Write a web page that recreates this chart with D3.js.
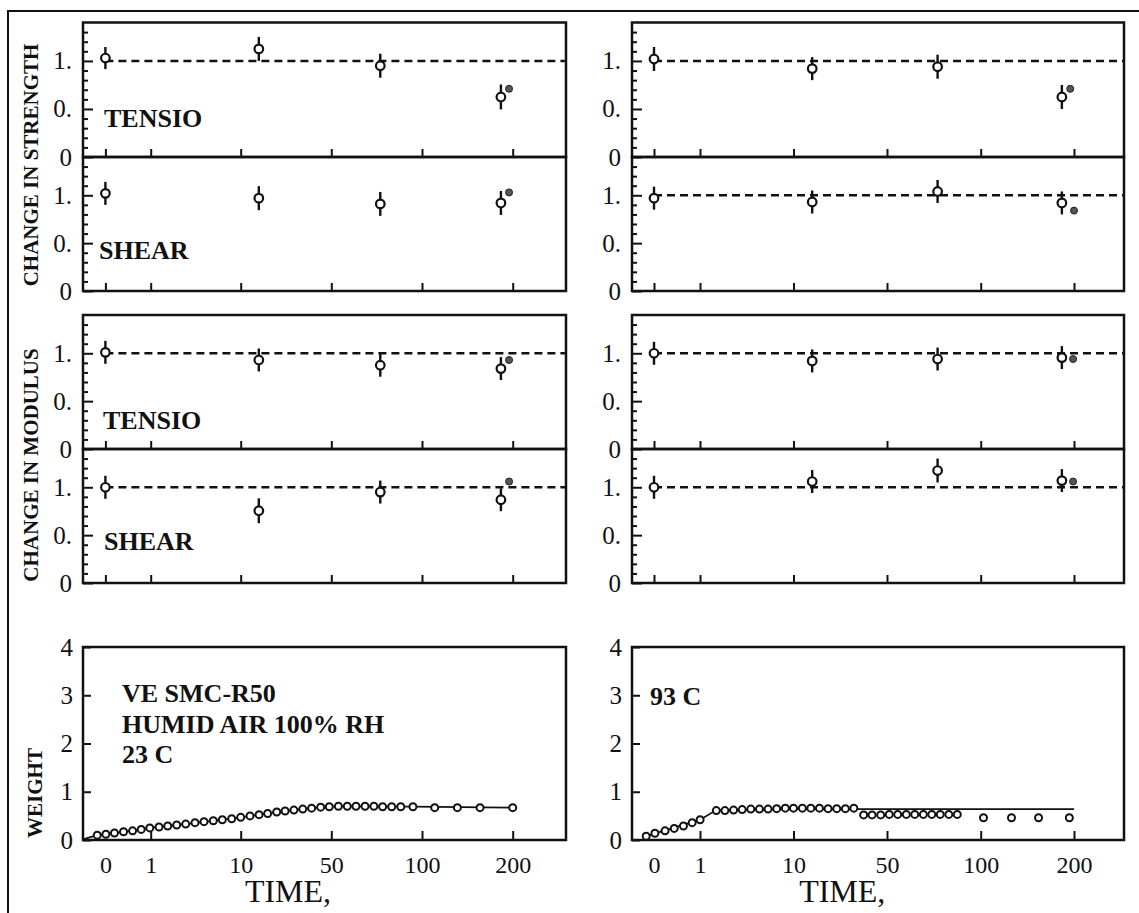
<!DOCTYPE html>
<html>
<head>
<meta charset="utf-8">
<script src="https://cdn.jsdelivr.net/npm/d3@7"></script>
<style>
  body { margin: 0; background: #fff; }
  text { font-family: "Liberation Serif", "DejaVu Serif", "Times New Roman", serif; fill: #111; }
</style>
</head>
<body>
<script>
// time axis is printed on a stretched scale, so the ticks are spaced by hand
var timeTicks = [0, 1, 10, 50, 100, 200];
var timeLabels = ["0", "1", "10", "50", "100", "200"];
var testTimes = [0, 18, 77, 187];

var ratioTicks = [0, 0.5, 1.0];
var ratioLabels = ["0", "0.", "1."];
var ratioMinor = [0.1, 0.2, 0.3, 0.4, 0.6, 0.7, 0.8, 0.9, 1.1, 1.2, 1.3];
var weightTicks = [0, 1, 2, 3, 4];

// 23 C column: open = wet, filled = redried (time, value)
var strTensL = [1.03, 1.125, 0.95, 0.625], strTensLErr = [0.115, 0.125, 0.125, 0.13], strTensLFill = [196, 0.71];
var strShearL = [1.02, 0.97, 0.91, 0.92], strShearLErr = [0.12, 0.125, 0.125, 0.125], strShearLFill = [196, 1.03];
var modTensL = [1.01, 0.93, 0.875, 0.84], modTensLErr = [0.12, 0.12, 0.12, 0.12], modTensLFill = [196, 0.93];
var modShearL = [1.0, 0.755, 0.95, 0.87], modShearLErr = [0.12, 0.13, 0.12, 0.12], modShearLFill = [196, 1.06];

// 93 C column
var strTensR = [1.02, 0.92, 0.94, 0.625], strTensRErr = [0.125, 0.12, 0.125, 0.125], strTensRFill = [196, 0.71];
var strShearR = [0.97, 0.93, 1.04, 0.92], strShearRErr = [0.12, 0.12, 0.12, 0.12], strShearRFill = [200, 0.84];
var modTensR = [1.0, 0.92, 0.94, 0.955], modTensRErr = [0.12, 0.12, 0.12, 0.12], modTensRFill = [199, 0.94];
var modShearR = [1.0, 1.06, 1.175, 1.07], modShearRErr = [0.12, 0.12, 0.125, 0.12], modShearRFill = [199, 1.06];

// weight gain
var weightTimeL = [-0.18, 0.01, 0.2, 0.4, 0.6, 0.79, 0.98, 1.83, 2.7, 3.6, 4.5, 5.43, 6.33, 7.26, 8.16, 9.1, 10,
  14.1, 18.1, 21.9, 25.9, 29.6, 33.5, 37.4, 41.3, 45.3, 49.1, 53.9, 58.8, 63.6, 68.6, 73.5, 78.3, 83.3, 88.3, 95,
  114, 139, 164, 200];
var weightL = [0.10, 0.12, 0.145, 0.17, 0.19, 0.22, 0.25, 0.27, 0.29, 0.31, 0.33, 0.36, 0.38, 0.40, 0.42, 0.44, 0.47,
  0.50, 0.525, 0.55, 0.58, 0.60, 0.62, 0.64, 0.66, 0.68, 0.69, 0.70, 0.70, 0.70, 0.70, 0.70, 0.69, 0.69, 0.69, 0.69,
  0.67, 0.67, 0.67, 0.67];
var fitTimeL = [-0.48, -0.18, 0.4, 0.98, 4.5, 10, 18.1, 29.6, 41.3, 53.9, 95, 200];
var fitL = [0.02, 0.10, 0.17, 0.25, 0.33, 0.47, 0.525, 0.60, 0.66, 0.70, 0.69, 0.67];

var weightTimeR = [-0.17, 0.02, 0.24, 0.44, 0.64, 0.83, 1.01,
  2.57, 3.4, 4.23, 5.06, 5.89, 6.72, 7.55, 8.38, 9.21, 10, 13.8, 17.4, 21.1, 24.8, 28.5, 32.2, 35.8,
  40, 43.6, 47.3, 51.2, 55.7, 60.3, 64.8, 69.4, 73.9, 78.4, 83, 87.5,
  103, 133, 162, 195];
var weightR = [0.08, 0.14, 0.19, 0.24, 0.29, 0.36, 0.42,
  0.61, 0.61, 0.62, 0.63, 0.64, 0.64, 0.64, 0.65, 0.66, 0.66, 0.66, 0.66, 0.66, 0.65, 0.65, 0.65, 0.66,
  0.52, 0.52, 0.52, 0.53, 0.53, 0.53, 0.53, 0.53, 0.53, 0.53, 0.53, 0.53,
  0.46, 0.46, 0.46, 0.46];
var fitTimeR = [-0.17, 1.01, 2.57, 10, 200];
var fitR = [0.08, 0.42, 0.62, 0.64, 0.64];

var W = 1139, H = 913;
var serif = '"Liberation Serif", "DejaVu Serif", "Times New Roman", serif';
var svg = d3.select("body").append("svg").attr("width", W).attr("height", H);

var cols = [
  { left: 83, right: 566, ticksX: [105.4, 150.7, 240.7, 331.3, 422, 512.7] },
  { left: 632, right: 1124, ticksX: [654, 700, 793.5, 887, 980.7, 1074] }
];
cols.forEach(function(c) {
  c.x = d3.scaleLinear().domain(timeTicks).range(c.ticksX);
});

function styleAxis(g, size) {
  g.select(".domain").remove();
  g.selectAll("line").attr("stroke", "#111").attr("stroke-width", 2);
  g.selectAll("text").attr("font-family", serif).attr("font-size", size).attr("fill", "#111");
}

function boldText(g, x, y, size, s) {
  return g.append("text").attr("x", x).attr("y", y).attr("font-family", serif)
    .attr("font-size", size).attr("font-weight", "bold").text(s);
}

function ratioPanel(c, top, bottom, vals, errs, fill, dashed, label, lx, ly) {
  var x = c.x;
  var y = d3.scaleLinear().domain([0, 1.4]).range([bottom, top]);
  var g = svg.append("g");

  g.append("g").attr("transform", "translate(" + c.left + ",0)")
    .call(d3.axisLeft(y).tickValues(ratioMinor).tickSize(-5).tickFormat(""))
    .call(styleAxis, 24);
  g.append("g").attr("transform", "translate(" + c.left + ",0)")
    .call(d3.axisLeft(y).tickValues(ratioTicks).tickSize(-10).tickPadding(11)
      .tickFormat(function(d, i) { return ratioLabels[i]; }))
    .call(styleAxis, 25);
  g.append("g").attr("transform", "translate(0," + bottom + ")")
    .call(d3.axisBottom(x).tickValues(timeTicks).tickSize(-8).tickFormat(""))
    .call(styleAxis, 24);

  g.append("rect").attr("x", c.left).attr("y", top)
    .attr("width", c.right - c.left).attr("height", bottom - top)
    .attr("fill", "none").attr("stroke", "#111").attr("stroke-width", 2.5);

  if (dashed) {
    g.append("line").attr("x1", x(0)).attr("x2", c.right).attr("y1", y(1)).attr("y2", y(1))
      .attr("stroke", "#111").attr("stroke-width", 2.5).attr("stroke-dasharray", "8,5");
  }

  g.selectAll(".err").data(vals).enter().append("line")
    .attr("x1", function(d, i) { return x(testTimes[i]); })
    .attr("x2", function(d, i) { return x(testTimes[i]); })
    .attr("y1", function(d, i) { return y(d - errs[i]); })
    .attr("y2", function(d, i) { return y(d + errs[i]); })
    .attr("stroke", "#111").attr("stroke-width", 2.4);

  g.selectAll(".pt").data(vals).enter().append("circle")
    .attr("cx", function(d, i) { return x(testTimes[i]); })
    .attr("cy", function(d) { return y(d); })
    .attr("r", 4.3).attr("fill", "#fff").attr("stroke", "#111").attr("stroke-width", 2.2);

  g.append("circle").attr("cx", x(fill[0])).attr("cy", y(fill[1])).attr("r", 3.5)
    .attr("fill", "#555").attr("stroke", "#222").attr("stroke-width", 1);

  if (label) boldText(g, lx, ly, 26, label);
}

function weightPanel(c, top, bottom, times, vals, fitT, fitV, notes) {
  var x = c.x;
  var y = d3.scaleLinear().domain([0, 4]).range([bottom, top]);
  var g = svg.append("g");

  g.append("g").attr("transform", "translate(" + c.left + ",0)")
    .call(d3.axisLeft(y).tickValues(weightTicks).tickSize(-8).tickPadding(10).tickFormat(d3.format("d")))
    .call(styleAxis, 25);
  g.append("g").attr("transform", "translate(0," + bottom + ")")
    .call(d3.axisBottom(x).tickValues(timeTicks.slice(1)).tickSize(-9).tickFormat(""))
    .call(styleAxis, 24);
  g.append("g").attr("transform", "translate(0," + bottom + ")")
    .call(d3.axisBottom(x).tickValues(timeTicks).tickSize(0).tickPadding(16)
      .tickFormat(function(d, i) { return timeLabels[i]; }))
    .call(styleAxis, 24);

  g.append("rect").attr("x", c.left).attr("y", top)
    .attr("width", c.right - c.left).attr("height", bottom - top)
    .attr("fill", "none").attr("stroke", "#111").attr("stroke-width", 2.5);

  var line = d3.line().x(function(d) { return x(d[0]); }).y(function(d) { return y(d[1]); });
  g.append("path").datum(d3.zip(fitT, fitV)).attr("d", line)
    .attr("fill", "none").attr("stroke", "#111").attr("stroke-width", 1.8);

  g.selectAll(".wp").data(d3.zip(times, vals)).enter().append("circle")
    .attr("cx", function(d) { return x(d[0]); })
    .attr("cy", function(d) { return y(d[1]); })
    .attr("r", 3.5).attr("fill", "#fff").attr("stroke", "#111").attr("stroke-width", 2);

  notes.forEach(function(n) { boldText(g, n[0], n[1], 26, n[2]); });

  g.append("text").attr("x", (x(10) + x(50)) / 2 + 2).attr("y", 902).attr("font-family", serif)
    .attr("text-anchor", "middle").attr("font-size", 32).text("TIME,");
}

var L = cols[0], R = cols[1];

ratioPanel(L, 22.5, 157, strTensL, strTensLErr, strTensLFill, true, "TENSIO", 104, 127);
ratioPanel(L, 157, 291, strShearL, strShearLErr, strShearLFill, false, "SHEAR", 99, 259);
ratioPanel(L, 315, 449, modTensL, modTensLErr, modTensLFill, true, "TENSIO", 103, 429);
ratioPanel(L, 449, 583, modShearL, modShearLErr, modShearLFill, true, "SHEAR", 104, 550);

ratioPanel(R, 22.5, 157, strTensR, strTensRErr, strTensRFill, true, null);
ratioPanel(R, 157, 291, strShearR, strShearRErr, strShearRFill, true, null);
ratioPanel(R, 315, 449, modTensR, modTensRErr, modTensRFill, true, null);
ratioPanel(R, 449, 583, modShearR, modShearRErr, modShearRFill, true, null);

weightPanel(L, 647, 840, weightTimeL, weightL, fitTimeL, fitL,
  [[122, 702, "VE SMC-R50"], [122, 733, "HUMID AIR 100% RH"], [122, 763, "23 C"]]);
weightPanel(R, 647, 840, weightTimeR, weightR, fitTimeR, fitR, [[650, 705, "93 C"]]);

// y titles
[["CHANGE IN STRENGTH", 165, 38], ["CHANGE IN MODULUS", 465, 38], ["WEIGHT", 793, 42]].forEach(function(t) {
  svg.append("text").attr("transform", "translate(" + t[2] + "," + t[1] + ") rotate(-90)")
    .attr("font-family", serif).attr("text-anchor", "middle")
    .attr("font-size", 21).attr("font-weight", "bold").text(t[0]);
});

// outer frame (left and top only)
svg.append("path").attr("d", "M8," + H + "V11H" + W)
  .attr("fill", "none").attr("stroke", "#111").attr("stroke-width", 2);
</script>
</body>
</html>
